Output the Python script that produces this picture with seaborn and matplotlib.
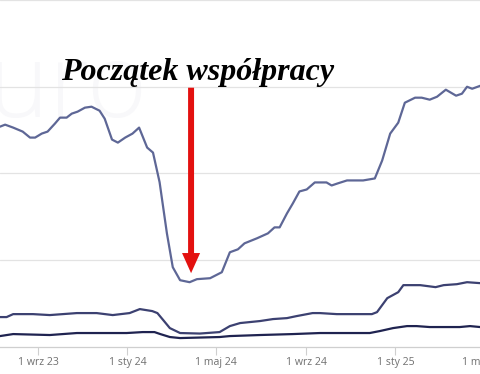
import pandas as pd
import numpy as np
import matplotlib
matplotlib.use("Agg")
import matplotlib.pyplot as plt
import seaborn as sns

sns.set_theme(style = "white")
plt.rcParams.update({'font.family': ['Open Sans', 'DejaVu Sans']})

# upper series
top_dates = ["2023-07-11", "2023-07-18", "2023-07-29", "2023-08-11", "2023-08-21", "2023-08-28",
	"2023-09-06", "2023-09-14", "2023-09-24", "2023-10-01", "2023-10-10", "2023-10-17", "2023-10-25",
	"2023-11-04", "2023-11-13", "2023-11-24", "2023-12-01", "2023-12-11", "2023-12-19", "2023-12-29",
	"2024-01-08", "2024-01-17", "2024-01-28", "2024-02-05", "2024-02-14", "2024-02-24", "2024-03-03",
	"2024-03-13", "2024-03-26", "2024-04-05", "2024-04-23", "2024-05-09", "2024-05-20", "2024-05-31",
	"2024-06-09", "2024-06-26", "2024-07-11", "2024-07-20", "2024-07-27", "2024-08-06", "2024-08-14",
	"2024-08-23", "2024-09-02", "2024-09-13", "2024-09-20", "2024-09-29", "2024-10-06", "2024-10-14",
	"2024-10-27", "2024-11-18", "2024-12-04", "2024-12-14", "2024-12-25", "2025-01-05", "2025-01-14",
	"2025-01-28", "2025-02-06", "2025-02-17", "2025-02-27", "2025-03-11", "2025-03-25", "2025-04-02",
	"2025-04-09", "2025-04-16", "2025-04-27", "2025-05-10"]
top_vals = [2540, 2563, 2529, 2483, 2414, 2414,
	2460, 2483, 2575, 2644, 2644, 2690, 2713,
	2759, 2770, 2724, 2632, 2391, 2356, 2414,
	2460, 2529, 2299, 2241, 1900, 1310, 920,
	770, 747, 782, 793, 862, 1092, 1126,
	1195, 1253, 1310, 1379, 1379, 1540, 1655,
	1793, 1816, 1897, 1897, 1897, 1862, 1885,
	1920, 1920, 1943, 2149, 2460, 2586, 2816,
	2874, 2874, 2851, 2885, 2966, 2897, 2920,
	3000, 2977, 3011, 3000]

# middle series
mid_dates = ["2023-07-11", "2023-07-20", "2023-07-29", "2023-08-25", "2023-09-17", "2023-10-24",
	"2023-11-20", "2023-12-12", "2024-01-04", "2024-01-18", "2024-02-04", "2024-02-11", "2024-02-19",
	"2024-02-28", "2024-03-13", "2024-04-09", "2024-05-06", "2024-05-20", "2024-06-03", "2024-06-30",
	"2024-07-18", "2024-08-06", "2024-08-19", "2024-09-10", "2024-09-20", "2024-10-13", "2024-11-30",
	"2024-12-07", "2024-12-21", "2025-01-05", "2025-01-12", "2025-02-04", "2025-02-25", "2025-03-08",
	"2025-03-26", "2025-04-09", "2025-04-27", "2025-05-10"]
mid_vals = [345, 345, 379, 379, 368, 391,
	391, 368, 391, 437, 414, 391, 310,
	218, 161, 155, 172, 241, 276, 299,
	322, 333, 356, 391, 391, 379, 379,
	402, 563, 632, 713, 713, 690, 713,
	724, 747, 736, 740]

# lower series
low_dates = ["2023-07-11", "2023-07-29", "2023-09-17", "2023-10-24", "2023-11-24", "2023-12-31",
	"2024-01-22", "2024-02-07", "2024-02-15", "2024-02-28", "2024-03-13", "2024-05-06", "2024-05-20",
	"2024-06-30", "2024-08-14", "2024-09-20", "2024-11-27", "2024-12-11", "2024-12-29", "2025-01-17",
	"2025-01-30", "2025-02-17", "2025-03-30", "2025-04-13", "2025-04-27", "2025-05-10"]
low_vals = [126, 149, 138, 161, 161, 161,
	172, 172, 149, 115, 103, 115, 126,
	138, 149, 161, 161, 184, 218, 241,
	241, 230, 230, 241, 230, 232]

tick_dates = ["2023-09-01", "2024-01-01", "2024-05-01", "2024-09-01", "2025-01-01", "2025-05-01"]
tick_labels = ["1 wrz 23", "1 sty 24", "1 maj 24", "1 wrz 24", "1 sty 25", "1 maj 25"]

note_text = "Początek współpracy"
note_date = "2024-03-28"
arrow_from, arrow_to = 2989, 851

fig = plt.figure(figsize = (4.8, 3.74), dpi = 100)
ax = fig.add_axes([0, 27/374, 500/480, 347/374])

# very faint watermark
ax.text(0.09, 0.74, "zuro", transform = ax.transAxes, fontsize = 74, color = "#f8f8fa",
	ha = "center", va = "center", zorder = 0, fontweight = "light")

for d, v, c in [(top_dates, top_vals, "#5e6796"), (mid_dates, mid_vals, "#3c4171"), (low_dates, low_vals, "#1f2350")]:
	df = pd.DataFrame({"date": pd.to_datetime(d), "val": v})
	sns.lineplot(x = "date", y = "val", data = df, color = c, linewidth = 1.6, ax = ax, zorder = 3)

ax.set_xlim(pd.Timestamp("2023-07-11"), pd.Timestamp("2025-05-24"))
ax.set_ylim(0, 3989)
ax.set_yticks([1000, 2000, 3000, 4000])
ax.yaxis.grid(True, color = "#e3e3e3", linewidth = 0.9)
ax.set_yticklabels([])
ax.tick_params(axis = "y", length = 0)
ax.set_xticks(pd.to_datetime(tick_dates))
ax.set_xticklabels(tick_labels, fontsize = 7.6, color = "#707070")
ax.tick_params(axis = "x", length = 6, width = 0.8, color = "#cfcfcf", pad = 1.5, bottom = True)
ax.set_xlabel("")
ax.set_ylabel("")
for s in ["left", "right", "top"]:
	ax.spines[s].set_visible(False)
ax.spines["bottom"].set_color("#cfcfcf")
ax.spines["bottom"].set_linewidth(0.9)

ax.annotate("", xy = (pd.Timestamp(note_date), arrow_to), xytext = (pd.Timestamp(note_date), arrow_from),
	arrowprops = dict(facecolor = "#e3100f", edgecolor = "none", width = 4.3, headwidth = 13, headlength = 14.5, shrink = 0),
	zorder = 5)

fig.text(198/480, 1 - 80/374, note_text, ha = "center", va = "baseline", fontsize = 23,
	family = "Liberation Serif", fontweight = "bold", style = "italic", color = "black")

plt.savefig("out.png", dpi = 100)
